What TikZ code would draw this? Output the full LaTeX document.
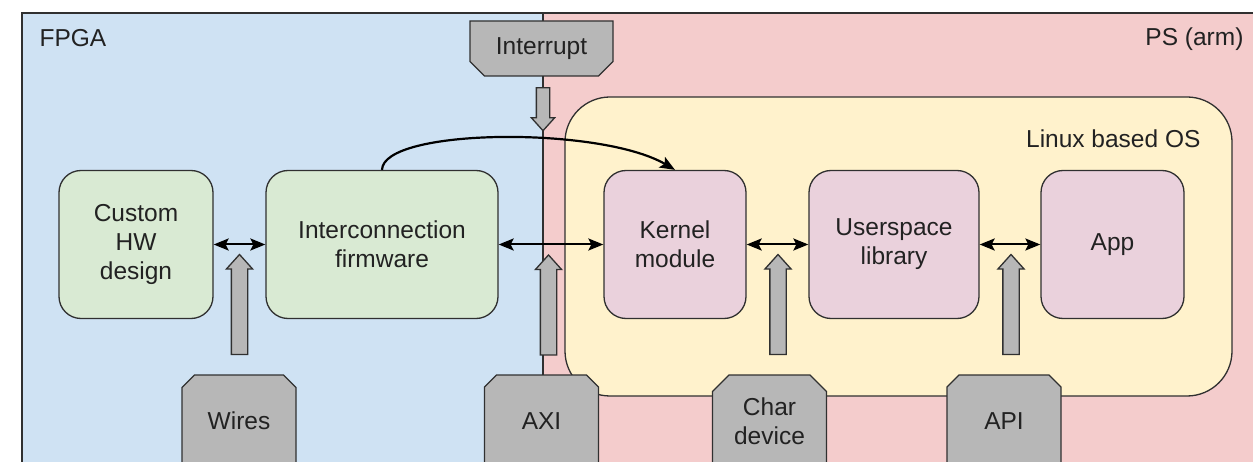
\documentclass[tikz,border=0pt]{standalone}
\usepackage{fontspec}
\setmainfont{Liberation Sans}
\usetikzlibrary{arrows.meta,shapes.misc,shapes.arrows}

\definecolor{fpgablue}{HTML}{CFE2F3}
\definecolor{pspink}{HTML}{F4CCCC}
\definecolor{osyellow}{HTML}{FFF2CC}
\definecolor{hwgreen}{HTML}{D9EAD3}
\definecolor{swpink}{HTML}{EAD1DC}
\definecolor{taggray}{HTML}{B7B7B7}
\definecolor{edgegray}{HTML}{303030}
\definecolor{textgray}{HTML}{222222}

\tikzset{
  every node/.style={font=\fontsize{24.5}{29}\selectfont, text=textgray},
  block/.style={draw=edgegray, line width=1.3pt, rounded corners=22pt, align=center, inner sep=0pt, minimum height=148pt},
  hwblock/.style={block, fill=hwgreen},
  swblock/.style={block, fill=swpink},
  tagbox/.style={chamfered rectangle, chamfered rectangle xsep=13pt, draw=edgegray, line width=1.3pt, fill=taggray, align=center, inner sep=0pt, minimum width=114pt},
  link/.style={line width=2pt, {Stealth[length=15pt,width=12pt,inset=3pt]}-{Stealth[length=15pt,width=12pt,inset=3pt]}},
  hollowarrow/.style={single arrow, draw=edgegray, line width=1.3pt, fill=taggray, inner xsep=0pt, inner ysep=7.5pt, minimum height=100pt, single arrow head extend=5pt, single arrow tip angle=84}
}

\begin{document}
\begin{tikzpicture}[x=1pt,y=1pt,yscale=-1]
\useasboundingbox (0,0) rectangle (1253,462);
\fill[white] (0,0) rectangle (1253,462);

%Shape: FPGA side
\fill[fpgablue] (22,13) rectangle (543,470);
%Shape: PS side
\fill[pspink] (543,13) rectangle (1260,470);
%Straight Lines: outline and divider
\draw[edgegray, line width=1.5pt] (22,470) -- (22,13) -- (1260,13);
\draw[edgegray, line width=1.3pt] (543,13) -- (543,470);

% Text Node
\node[anchor=base west] (fpga) at (36,47) {FPGA};
% Text Node
\node[anchor=base east] (ps) at (1247,46) {PS (arm)};

%Shape: Linux box
\node[draw=edgegray, line width=1.3pt, fill=osyellow, rounded corners=45pt, minimum width=667pt, minimum height=299pt] (os) at (898.5,246.5) {};
% Text Node
\node[anchor=base east] (oslabel) at (1204,148) {Linux based OS};

%Blocks
\node[hwblock, minimum width=154pt] (hw) at (136,244.5) {Custom\\HW\\design};
\node[hwblock, minimum width=232pt] (fw) at (382,244.5) {Interconnection\\firmware};
\node[swblock, minimum width=142pt] (km) at (675,244.5) {Kernel\\module};
\node[swblock, minimum width=170pt] (ul) at (894,244.5) {Userspace\\library};
\node[swblock, minimum width=143pt] (app) at (1112.5,244.5) {App};

%Links
\draw[link] (hw) -- (fw);
\draw[link] (fw) -- (km);
\draw[link] (km) -- (ul);
\draw[link] (ul) -- (app);
\draw[line width=2.2pt, -{Stealth[length=15pt,width=12pt,inset=3pt]}] (fw.north) .. controls (383,128) and (600,126) .. (km.north);

%Tags
\node[tagbox, chamfered rectangle corners={south west,south east}, minimum width=143pt, minimum height=55pt] (irq) at (541.5,48.5) {Interrupt};
\node[tagbox, chamfered rectangle corners={north west,north east}, minimum height=92pt] (wires) at (239,421) {Wires};
\node[tagbox, chamfered rectangle corners={north west,north east}, minimum height=92pt] (axi) at (541.5,421) {AXI};
\node[tagbox, chamfered rectangle corners={north west,north east}, minimum height=92pt] (chardev) at (769.5,421) {Char\\device};
\node[tagbox, chamfered rectangle corners={north west,north east}, minimum height=92pt] (api) at (1004,421) {API};

%Hollow arrows
\node[hollowarrow, rotate=-90, minimum height=43pt, inner ysep=6pt] (irqarrow) at (543,105.5) {};
\node[hollowarrow, rotate=90] (wiresarrow) at (239.5,309) {};
\node[hollowarrow, rotate=90] (axiarrow) at (548.5,309.5) {};
\node[hollowarrow, rotate=90] (chardevarrow) at (778,309) {};
\node[hollowarrow, rotate=90] (apiarrow) at (1011,309) {};

\end{tikzpicture}
\end{document}
